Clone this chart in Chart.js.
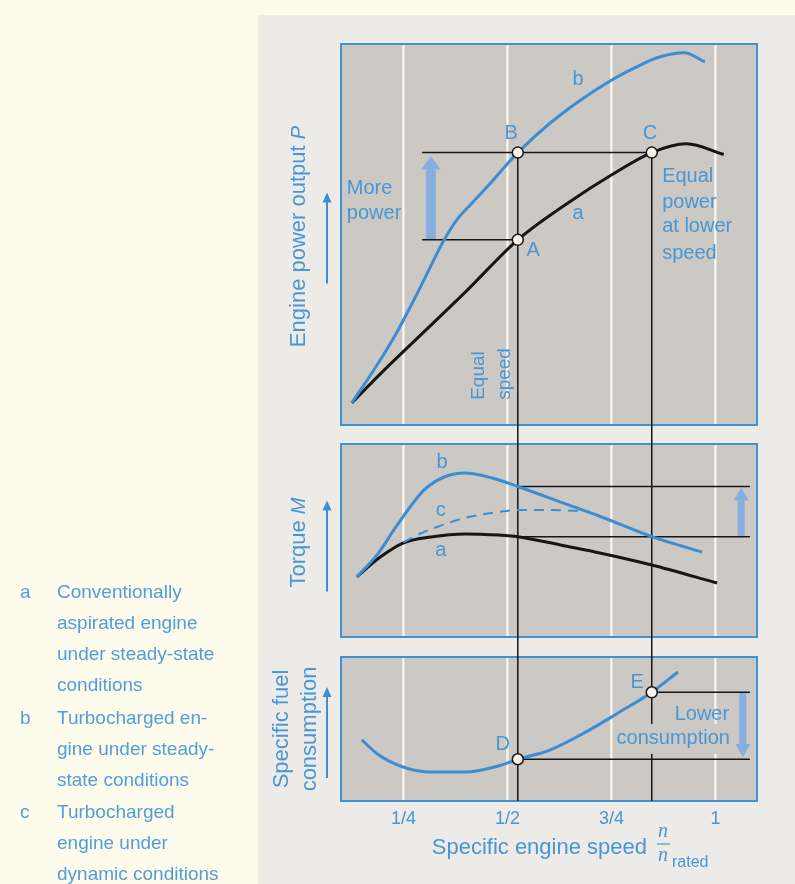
<!DOCTYPE html>
<html>
<head>
<meta charset="utf-8">
<script src="https://cdn.jsdelivr.net/npm/chart.js@4.4.1/dist/chart.umd.min.js"></script>
<style>
  html, body { margin: 0; padding: 0; }
  body { width: 795px; height: 884px; background: #fdfbec; position: relative; overflow: hidden;
         font-family: 'Liberation Sans', Arial, sans-serif; }
  #frame { position: absolute; left: 258px; top: 15px; width: 537px; height: 869px; background: #edebe8; }
  #chart { position: absolute; left: 0; top: 0; }
  #legend { position: absolute; left: 0; top: 576px; color: #559dd8; font-size: 19px; }
  #legend .item { position: relative; padding-left: 57px; line-height: 31px; margin-bottom: 1.5px; white-space: nowrap; }
  #legend .key { position: absolute; left: 20px; top: 0; }
</style>
</head>
<body>
<div id="frame"></div>
<canvas id="chart" width="795" height="884"></canvas>
<div id="legend">
  <div class="item"><span class="key">a</span>Conventionally<br>aspirated engine<br>under steady-state<br>conditions</div>
  <div class="item"><span class="key">b</span>Turbocharged en-<br>gine under steady-<br>state conditions</div>
  <div class="item"><span class="key">c</span>Turbocharged<br>engine under<br>dynamic conditions</div>
</div>
<script>
// --- data (x = n / n_rated, y = relative units 0..100 per panel) ---
const tickValues = [0.25, 0.5, 0.75, 1];
const tickLabels = ['1/4', '1/2', '3/4', '1'];

// engine power output P
const powerSpeedA = [0.126, 0.2, 0.3, 0.4, 0.525, 0.65, 0.75, 0.847, 0.93, 1.02];
const powerA      = [5.8, 14, 24.5, 35, 48.6, 58.6, 65.6, 71.5, 73.8, 71.0];
const powerSpeedB = [0.126, 0.184, 0.233, 0.29, 0.348, 0.378, 0.418, 0.458, 0.498, 0.525, 0.6, 0.672, 0.75, 0.807, 0.86, 0.925, 0.975];
const powerB      = [5.8, 15.3, 24.1, 36, 48.6, 53.8, 58.6, 63.3, 68.3, 71.5, 79, 85, 90.5, 93.8, 96.4, 97.7, 95.3];

// torque M
const torqueSpeedA = [0.138, 0.191, 0.249, 0.316, 0.398, 0.48, 0.525, 0.643, 0.725, 0.847, 1.004];
const torqueA      = [31.1, 40.9, 48.7, 51.8, 53.4, 52.8, 52, 47, 43.4, 37.3, 28.0];
const torqueSpeedB = [0.138, 0.19, 0.232, 0.3, 0.348, 0.398, 0.463, 0.525, 0.643, 0.725, 0.847, 0.968];
const torqueB      = [31.1, 43.5, 57.0, 76.2, 82.9, 85.0, 82.4, 78, 68.7, 62.3, 52, 44.0];
const torqueSpeedC = [0.25, 0.29, 0.331, 0.398, 0.48, 0.525, 0.602, 0.695];
const torqueC      = [49, 53.5, 57.0, 61.7, 64.8, 65.8, 65.8, 65.2];

// specific fuel consumption
const fuelSpeed = [0.15, 0.191, 0.249, 0.316, 0.398, 0.48, 0.525, 0.602, 0.684, 0.766, 0.847, 0.91];
const fuel      = [42.4, 31.9, 23.6, 20.1, 20.1, 24.5, 29, 35.4, 47.2, 61.1, 75.5, 89.6];

// operating points A..E
const pointNames  = ['A', 'B', 'C', 'D', 'E'];
const pointSpeed  = [0.525, 0.525, 0.847, 0.525, 0.847];
const pointValue  = [48.6, 71.5, 71.5, 29, 75.5];
const pointPanel  = ['yP', 'yP', 'yP', 'yB', 'yB'];

// --- look ---
const FONT = "'Liberation Sans', Arial, sans-serif";
const BLUE = '#3b8dd4';
const TEXT_BLUE = '#4896d5';
const PANEL = '#ccc9c5';
const GRID = '#f6f2ec';
const BORDER = '#3f93d4';
const FAT_ARROW = '#86aee0';
const INK = '#161616';

const pts = (xs, ys) => xs.map((x, i) => ({ x, y: ys[i] }));

function curve(data, axis, color, width, dash) {
  return { data, yAxisID: axis, borderColor: color, borderWidth: width, borderDash: dash || [],
           pointRadius: 0, cubicInterpolationMode: 'monotone', fill: false, order: 2 };
}
function refLine(data, axis) {
  return { data, yAxisID: axis, borderColor: INK, borderWidth: 1.5, pointRadius: 0, tension: 0, fill: false, order: 3 };
}
function markers(axis) {
  const idx = pointNames.map((n, i) => i).filter(i => pointPanel[i] === axis);
  return { data: idx.map(i => ({ x: pointSpeed[i], y: pointValue[i] })), yAxisID: axis, showLine: false,
           pointRadius: 5.5, pointBackgroundColor: '#fdf1e8', pointBorderColor: INK, pointBorderWidth: 1.5, order: 0 };
}
const P = name => pointNames.indexOf(name);
const at = (name, x) => ({ x: x === undefined ? pointSpeed[P(name)] : x, y: pointValue[P(name)] });
const lineEnd = 1.083, lineStart = 0.295;

// horizontal guide lines
const guides = [
  refLine([{ x: lineStart, y: pointValue[P('B')] }, at('C')], 'yP'),
  refLine([{ x: lineStart, y: pointValue[P('A')] }, at('A')], 'yP'),
  refLine([{ x: 0.525, y: 78 }, { x: lineEnd, y: 78 }], 'yM'),
  refLine([{ x: 0.525, y: 52 }, { x: lineEnd, y: 52 }], 'yM'),
  refLine([at('E'), at('E', lineEnd)], 'yB'),
  refLine([at('D'), at('D', lineEnd)], 'yB')
];

// text inside the panels, in data units
const labels = [
  { t: 'B', x: 0.509, y: 76.4, axis: 'yP' },
  { t: 'C', x: 0.843, y: 76.4, axis: 'yP' },
  { t: 'A', x: 0.562, y: 45.7, axis: 'yP' },
  { t: 'a', x: 0.670, y: 55.6, axis: 'yP' },
  { t: 'b', x: 0.670, y: 90.6, axis: 'yP' },
  { t: 'More', x: 0.114, y: 62.2, axis: 'yP', align: 'left' },
  { t: 'power', x: 0.114, y: 55.6, axis: 'yP', align: 'left' },
  { t: 'Equal', x: 0.872, y: 65.1, axis: 'yP', align: 'left' },
  { t: 'power', x: 0.872, y: 58.5, axis: 'yP', align: 'left' },
  { t: 'at lower', x: 0.872, y: 52.0, axis: 'yP', align: 'left' },
  { t: 'speed', x: 0.872, y: 45.1, axis: 'yP', align: 'left' },
  { t: 'b', x: 0.343, y: 90.2, axis: 'yM' },
  { t: 'c', x: 0.340, y: 65.8, axis: 'yM' },
  { t: 'a', x: 0.340, y: 44.6, axis: 'yM' },
  { t: 'D', x: 0.489, y: 38.9, axis: 'yB' },
  { t: 'E', x: 0.812, y: 82.6, axis: 'yB' },
  { t: 'Lower', x: 1.033, y: 60.4, axis: 'yB', align: 'right' },
  { t: 'consumption', x: 1.035, y: 43.1, axis: 'yB', align: 'right', knockout: true }
];
const fatArrows = [
  { x: 0.316, from: 48.6, to: 70.5, axis: 'yP', shaft: 10, head: 20 },
  { x: 1.062, from: 52, to: 77.5, axis: 'yM', shaft: 7, head: 15 },
  { x: 1.066, from: 75.5, to: 30.5, axis: 'yB', shaft: 7, head: 15 }
];

function line(ctx, x1, y1, x2, y2) {
  ctx.beginPath(); ctx.moveTo(x1, y1); ctx.lineTo(x2, y2); ctx.stroke();
}

const panelPlugin = {
  id: 'panels',
  beforeDatasetsDraw(chart) {
    const { ctx, scales } = chart;
    const xs = scales.x;
    ctx.save();
    ['yP', 'yM', 'yB'].forEach(id => {
      const ys = scales[id];
      ctx.fillStyle = PANEL;
      ctx.fillRect(xs.left, ys.top, xs.width, ys.height);
      ctx.strokeStyle = GRID;
      ctx.lineWidth = 2.5;
      xs.ticks.forEach(t => {
        const px = xs.getPixelForValue(t.value);
        line(ctx, px, ys.top + 1, px, ys.bottom - 1);
      });
      ctx.strokeStyle = BORDER;
      ctx.lineWidth = 2;
      ctx.strokeRect(xs.left, ys.top, xs.width, ys.height);
    });
    // light blue arrows
    fatArrows.forEach(a => {
      const ys = scales[a.axis];
      const px = xs.getPixelForValue(a.x);
      const y0 = ys.getPixelForValue(a.from), y1 = ys.getPixelForValue(a.to);
      const dir = y1 < y0 ? -1 : 1, hl = 13;
      ctx.fillStyle = FAT_ARROW;
      ctx.fillRect(px - a.shaft / 2, Math.min(y0, y1 - dir * hl), a.shaft, Math.abs(y1 - dir * hl - y0));
      ctx.beginPath();
      ctx.moveTo(px - a.head / 2, y1 - dir * hl);
      ctx.lineTo(px + a.head / 2, y1 - dir * hl);
      ctx.lineTo(px, y1);
      ctx.closePath();
      ctx.fill();
    });
    // vertical drop lines from B and C down to the bottom panel
    ctx.strokeStyle = INK;
    ctx.lineWidth = 1.5;
    ['B', 'C'].forEach(n => {
      const px = xs.getPixelForValue(pointSpeed[P(n)]);
      line(ctx, px, scales.yP.getPixelForValue(pointValue[P(n)]), px, scales.yB.bottom);
    });
    ctx.restore();
  },
  afterDatasetsDraw(chart) {
    const { ctx, scales } = chart;
    const xs = scales.x;
    ctx.save();
    ctx.textBaseline = 'middle';
    labels.forEach(l => {
      const px = xs.getPixelForValue(l.x), py = scales[l.axis].getPixelForValue(l.y);
      ctx.font = '20px ' + FONT;
      ctx.textAlign = l.align || 'center';
      if (l.knockout) {
        const w = ctx.measureText(l.t).width;
        const left = l.align === 'right' ? px - w : px;
        ctx.fillStyle = PANEL;
        ctx.fillRect(left - 2, py - 15, w + 4, 30);
      }
      ctx.fillStyle = TEXT_BLUE;
      ctx.fillText(l.t, px, py);
    });
    // "Equal speed", rotated
    ctx.font = '19px ' + FONT;
    ctx.textAlign = 'left';
    [['Equal', 0.432], ['speed', 0.494]].forEach(([t, x]) => {
      ctx.save();
      ctx.translate(xs.getPixelForValue(x), scales.yP.getPixelForValue(6.6));
      ctx.rotate(-Math.PI / 2);
      ctx.fillText(t, 0, 0);
      ctx.restore();
    });
    ctx.restore();
  },
  afterDraw(chart) {
    const { ctx, scales } = chart;
    const xs = scales.x;
    ctx.save();
    ctx.fillStyle = TEXT_BLUE;
    ctx.strokeStyle = BLUE;
    ctx.textBaseline = 'middle';

    const rotated = (parts, cx, cy) => {
      ctx.save();
      ctx.translate(cx, cy);
      ctx.rotate(-Math.PI / 2);
      let total = 0;
      parts.forEach(p => { ctx.font = p[1] + FONT; total += ctx.measureText(p[0]).width; });
      let x = -total / 2;
      ctx.textAlign = 'left';
      parts.forEach(p => { ctx.font = p[1] + FONT; ctx.fillText(p[0], x, 0); x += ctx.measureText(p[0]).width; });
      ctx.restore();
    };
    const upArrow = (x, yc) => {
      ctx.strokeStyle = BLUE;
      ctx.lineWidth = 2;
      line(ctx, x, yc + 45, x, yc - 38);
      ctx.fillStyle = BLUE;
      ctx.beginPath();
      ctx.moveTo(x - 4.5, yc - 36); ctx.lineTo(x + 4.5, yc - 36); ctx.lineTo(x, yc - 46); ctx.closePath(); ctx.fill();
      ctx.fillStyle = TEXT_BLUE;
    };
    const mid = id => (scales[id].top + scales[id].bottom) / 2;
    const left = xs.left;

    rotated([['Engine power output ', '22px '], ['P', 'italic 20px ']], left - 42, mid('yP') + 2);
    upArrow(left - 14, mid('yP') + 4);
    rotated([['Torque ', '22px '], ['M', 'italic 20px ']], left - 42, mid('yM') + 2);
    upArrow(left - 14, mid('yM') + 6);
    rotated([['Specific fuel', '22px ']], left - 59, mid('yB'));
    rotated([['consumption', '22px ']], left - 31.5, mid('yB'));
    upArrow(left - 14, mid('yB') + 4);

    // x axis title with n / n_rated
    const fx = left + 322;
    ctx.font = '22px ' + FONT;
    ctx.textAlign = 'right';
    ctx.fillText('Specific engine speed', fx - 16, 848);
    ctx.textAlign = 'center';
    ctx.font = "italic 20px 'Liberation Serif', serif";
    ctx.fillText('n', fx, 832);
    ctx.fillText('n', fx, 856);
    ctx.lineWidth = 1.2;
    ctx.strokeStyle = TEXT_BLUE;
    line(ctx, fx - 6, 844, fx + 7, 844);
    ctx.textAlign = 'left';
    ctx.font = '16px ' + FONT;
    ctx.fillText('rated', fx + 9, 863);
    ctx.restore();
  }
};

new Chart(document.getElementById('chart'), {
  type: 'line',
  data: {
    datasets: [
      markers('yP'),
      markers('yB'),
      curve(pts(powerSpeedB, powerB), 'yP', BLUE, 3),
      curve(pts(powerSpeedA, powerA), 'yP', INK, 3),
      curve(pts(torqueSpeedB, torqueB), 'yM', BLUE, 3),
      curve(pts(torqueSpeedC, torqueC), 'yM', BLUE, 2, [10, 7]),
      curve(pts(torqueSpeedA, torqueA), 'yM', INK, 3),
      curve(pts(fuelSpeed, fuel), 'yB', BLUE, 3),
      ...guides
    ]
  },
  options: {
    responsive: false,
    maintainAspectRatio: false,
    animation: false,
    layout: { padding: { left: 341, top: 44, right: 38, bottom: 0 } },
    plugins: { legend: { display: false }, tooltip: { enabled: false } },
    scales: {
      x: {
        type: 'linear', min: 0.1, max: 1.1, position: 'bottom',
        grid: { display: false, drawTicks: false },
        border: { display: false },
        afterBuildTicks: s => { s.ticks = tickValues.map(v => ({ value: v })); },
        afterFit: s => { s.height = 83; },
        ticks: {
          color: TEXT_BLUE, font: { family: FONT, size: 18 }, padding: 7,
          autoSkip: false, maxRotation: 0,
          callback: v => tickLabels[tickValues.indexOf(v)]
        }
      },
      // left boxes in a stack are laid out last-to-first, so the bottom panel comes first
      yB:   { type: 'linear', min: 0, max: 100, display: false, position: 'left', stack: 'panels', stackWeight: 144 },
      gap2: { type: 'linear', min: 0, max: 1, display: false, position: 'left', stack: 'panels', stackWeight: 20 },
      yM:   { type: 'linear', min: 0, max: 100, display: false, position: 'left', stack: 'panels', stackWeight: 193 },
      gap1: { type: 'linear', min: 0, max: 1, display: false, position: 'left', stack: 'panels', stackWeight: 19 },
      yP:   { type: 'linear', min: 0, max: 100, display: false, position: 'left', stack: 'panels', stackWeight: 381 }
    }
  },
  plugins: [panelPlugin]
});
</script>
</body>
</html>
